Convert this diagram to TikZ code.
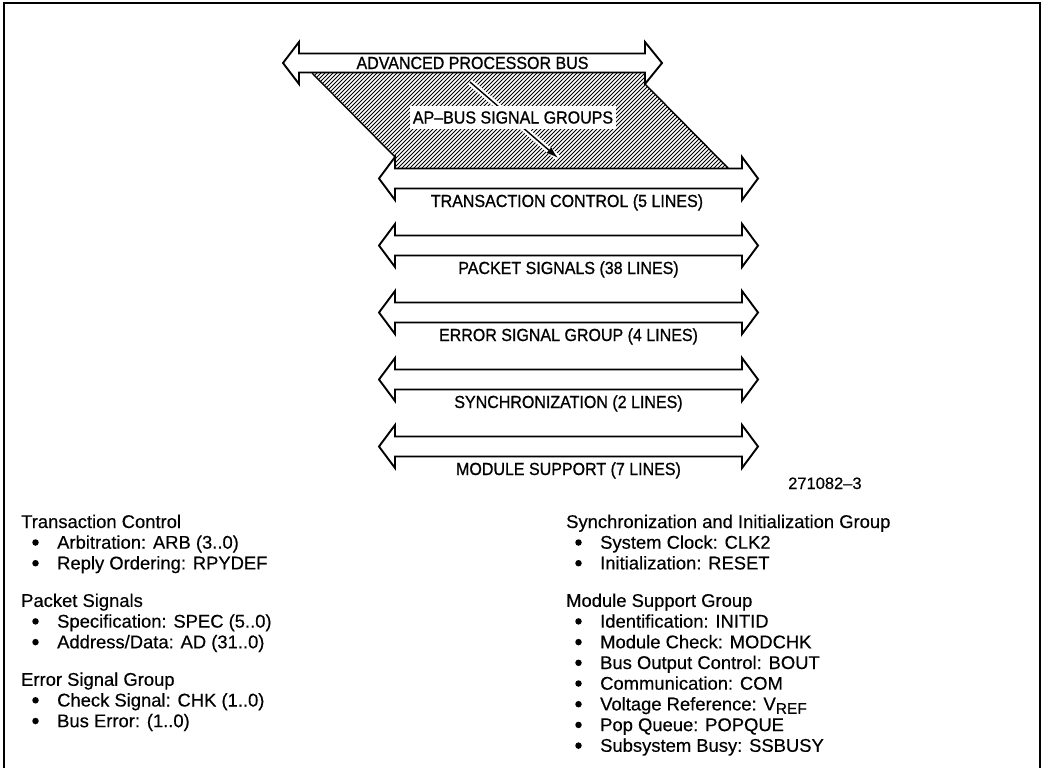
\documentclass[tikz,border=0pt]{standalone}
\usepackage{fontspec}
\setmainfont{Liberation Sans}
\newfontfamily\busfont[FakeStretch=0.915, FakeBold=0.9]{Liberation Sans}
\newfontfamily\listfont[FakeBold=0.4]{Liberation Sans}
\usetikzlibrary{arrows.meta}
\newcommand\drawbus[7]{%
  \draw[busline] (#1,#5) -- (#2,#5-#7) -- (#2,#5-#6) -- (#3,#5-#6) -- (#3,#5-#7) -- (#4,#5)
   -- (#3,#5+#7) -- (#3,#5+#6) -- (#2,#5+#6) -- (#2,#5+#7) -- cycle;}
\begin{document}
\begin{tikzpicture}[x=1pt,y=-1pt,
  busline/.style={draw=black, line width=1.9pt, fill=white, line join=miter},
  buslabel/.style={font=\busfont\fontsize{17.5}{17.5}\selectfont, anchor=base, inner sep=0pt},
  listtext/.style={font=\listfont\fontsize{18.4}{20}\selectfont, anchor=base west, inner sep=0pt},
  bul/.style={circle, fill=black, inner sep=0pt, minimum size=6.5pt},
  frameline/.style={line width=2pt},
  hatchline/.style={line width=0.75pt},
  edgeline/.style={line width=1.4pt}]
\useasboundingbox (0,0) rectangle (1043,768);
% frame
\draw[frameline] (3.5,768) -- (3.5,3.5) -- (1039.5,3.5) -- (1039.5,768);
% hatched parallelogram
\begin{scope}
\clip (312,73) -- (645,73) -- (645,84) -- (728,168) -- (395,168) -- (395,157) -- cycle;
\foreach \i in {0,...,135} { \draw[hatchline] ({195+\i*4},175) -- ++(110,-110); }
\end{scope}
\draw[edgeline] (312,73) -- (395,157);
\draw[edgeline] (645,84) -- (728,168);
% buses
\drawbus{283}{299}{645}{662}{63}{9.5}{21}
\foreach \k in {0,...,4} {
  \drawbus{379}{395}{742}{758}{178.5+67*\k}{10}{21.5}
}
% diagonal arrow
\coordinate (ga) at (470,82);
\coordinate (gb) at (558,158);
\draw[white, line width=6pt] (ga) -- (gb);
\draw[line width=1.4pt, -{Latex[length=12pt,width=7.5pt]}] (ga) -- (gb);
\node[fill=white, inner xsep=3pt, inner ysep=5pt, font=\busfont\fontsize{17.5}{17.5}\selectfont] (apbus) at (513,117.5) {AP–BUS SIGNAL GROUPS};
% bus labels
\node[buslabel] (apb) at (472.5,69) {ADVANCED PROCESSOR BUS};
\node[buslabel] (tc) at (567,207) {TRANSACTION CONTROL (5 LINES)};
\node[buslabel] (ps) at (568.5,274) {PACKET SIGNALS (38 LINES)};
\node[buslabel] (es) at (568.5,341) {ERROR SIGNAL GROUP (4 LINES)};
\node[buslabel] (sy) at (568.5,408) {SYNCHRONIZATION (2 LINES)};
\node[buslabel] (ms) at (568.5,475) {MODULE SUPPORT (7 LINES)};
\node[font=\listfont\fontsize{16.5}{16.5}\selectfont, anchor=base west, inner sep=0pt] (fig) at (788,489) {271082–3};
% left list
\node[listtext] (l1) at (21,528) {Transaction Control};
\node[bul] (b1) at (35.5,542.5) {};
\node[listtext] (l2) at (57,548.7) {Arbitration: ARB (3..0)};
\node[bul] (b2) at (35.5,563.2) {};
\node[listtext] (l3) at (57,569.4) {Reply Ordering: RPYDEF};
\node[listtext] (l4) at (21,606.9) {Packet Signals};
\node[bul] (b4) at (35.5,621.4) {};
\node[listtext] (l5) at (57,627.6) {Specification: SPEC (5..0)};
\node[bul] (b5) at (35.5,642.1) {};
\node[listtext] (l6) at (57,648.3) {Address/Data: AD (31..0)};
\node[listtext] (l7) at (21,685.8) {Error Signal Group};
\node[bul] (b7) at (35.5,700.3) {};
\node[listtext] (l8) at (57,706.5) {Check Signal: CHK (1..0)};
\node[bul] (b8) at (35.5,721) {};
\node[listtext] (l9) at (57,727.2) {Bus Error: (1..0)};
% right list
\node[listtext] (r1) at (566,528) {Synchronization and Initialization Group};
\node[bul] (c1) at (578.5,542.5) {};
\node[listtext] (r2) at (600,548.7) {System Clock: CLK2};
\node[bul] (c2) at (578.5,563.2) {};
\node[listtext] (r3) at (600,569.4) {Initialization: RESET};
\node[listtext] (r4) at (566,606.9) {Module Support Group};
\node[bul] (c4) at (578.5,621.4) {};
\node[listtext] (r5) at (600,627.6) {Identification: INITID};
\node[bul] (c5) at (578.5,642.1) {};
\node[listtext] (r6) at (600,648.3) {Module Check: MODCHK};
\node[bul] (c6) at (578.5,662.8) {};
\node[listtext] (r7) at (600,669) {Bus Output Control: BOUT};
\node[bul] (c7) at (578.5,683.5) {};
\node[listtext] (r8) at (600,689.7) {Communication: COM};
\node[bul] (c8) at (578.5,704.2) {};
\node[listtext] (r9) at (600,710.4) {Voltage Reference: V\raisebox{-3.5pt}{\fontsize{15.5}{15.5}\selectfont REF}};
\node[bul] (c9) at (578.5,724.9) {};
\node[listtext] (r10) at (600,731.1) {Pop Queue: POPQUE};
\node[bul] (c10) at (578.5,745.6) {};
\node[listtext] (r11) at (600,751.8) {Subsystem Busy: SSBUSY};
\end{tikzpicture}
\end{document}
